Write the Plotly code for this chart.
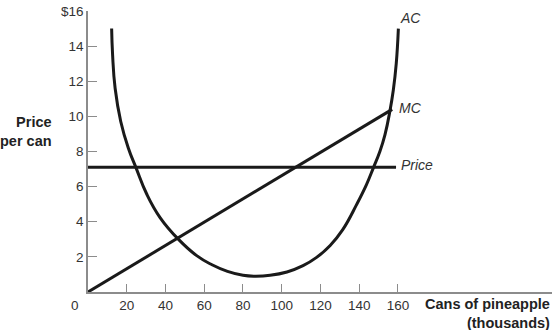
import plotly.graph_objects as go

# Data
ac_x = [12.2, 12.7, 14.0, 16.9, 20.8, 24.8, 30.3, 37.2, 46.6, 56.1, 64.0, 72.0, 80.0, 86.0, 94.0, 102.7, 111.0, 118.0, 125.0, 131.5, 138.7, 143.8, 147.3, 150.7, 153.3, 155.8, 157.6, 159.1, 160.2]
ac_y = [15.0, 13.5, 11.6, 9.71, 8.2, 7.07, 5.58, 4.24, 3.01, 2.07, 1.55, 1.17, 0.95, 0.9, 0.95, 1.14, 1.5, 1.97, 2.65, 3.55, 4.99, 6.13, 7.07, 8.01, 8.96, 10.28, 11.5, 13.0, 15.0]
mc_x = [0, 157]
mc_y = [0, 10.4]
price_x = [0, 159]
price_y = [7.1, 7.1]

x_ticks = [20, 40, 60, 80, 100, 120, 140, 160]
y_ticks = [2, 4, 6, 8, 10, 12, 14, 16]
y_tick_text = ["2", "4", "6", "8", "10", "12", "14", "$16"]

LINE = "#1a1a1a"
AXIS = "#8c8c8c"
TXT = "#333333"
FONT = "Liberation Sans, Arial, sans-serif"

fig = go.Figure()
fig.add_trace(go.Scatter(x=ac_x, y=ac_y, mode="lines", line=dict(color=LINE, width=3, shape="spline", smoothing=1.3), hoverinfo="skip"))
fig.add_trace(go.Scatter(x=mc_x, y=mc_y, mode="lines", line=dict(color=LINE, width=3), hoverinfo="skip"))
fig.add_trace(go.Scatter(x=price_x, y=price_y, mode="lines", line=dict(color=LINE, width=3), hoverinfo="skip"))

fig.update_layout(
    width=556, height=330,
    margin=dict(l=88, r=4, t=9, b=38),
    paper_bgcolor="white", plot_bgcolor="white",
    showlegend=False,
    font=dict(family=FONT, size=13.5, color=TXT),
    xaxis=dict(range=[0, 239.5], showgrid=False, zeroline=False, showline=True,
               linecolor=AXIS, linewidth=1.5, ticks="inside", ticklen=8, tickwidth=1.2,
               tickcolor=AXIS, tickvals=x_ticks, fixedrange=True),
    yaxis=dict(range=[0, 16], showgrid=False, zeroline=False, showline=True,
               linecolor=AXIS, linewidth=1.5, ticks="inside", ticklen=9, tickwidth=1.2,
               tickcolor=AXIS, tickvals=y_ticks, ticktext=y_tick_text, fixedrange=True),
)

annotations = [
    dict(text="0", xref="x", yref="y", x=0, y=0, xshift=-13, yshift=-13, showarrow=False,
         font=dict(size=13.5, color=TXT)),
    dict(text="AC", xref="x", yref="y", x=160, y=15.0, xanchor="left", yshift=11, xshift=0,
         showarrow=False, font=dict(size=14, color=TXT, style="italic")),
    dict(text="MC", xref="x", yref="y", x=mc_x[-1], y=mc_y[-1], xanchor="left", yshift=1, xshift=5,
         showarrow=False, font=dict(size=14, color=TXT, style="italic")),
    dict(text="Price", xref="x", yref="y", x=price_x[-1], y=price_y[-1], xanchor="left", yshift=2, xshift=3,
         showarrow=False, font=dict(size=14, color=TXT, style="italic")),
    dict(text="<b>Price<br>per can</b>", xref="paper", yref="paper", x=-88/464 + 54/464, y=(291.5-130)/283,
         xanchor="right", yanchor="middle", align="right", showarrow=False,
         font=dict(size=14.5, color="#222222")),
    dict(text="<b>Cans of pineapple<br>(thousands)</b>", xref="paper", yref="paper", x=1.0, y=(291.5-313)/283,
         xanchor="right", yanchor="middle", align="right", showarrow=False,
         font=dict(size=14.5, color="#222222")),
]
fig.update_layout(annotations=annotations)

fig.write_html("out.html")
